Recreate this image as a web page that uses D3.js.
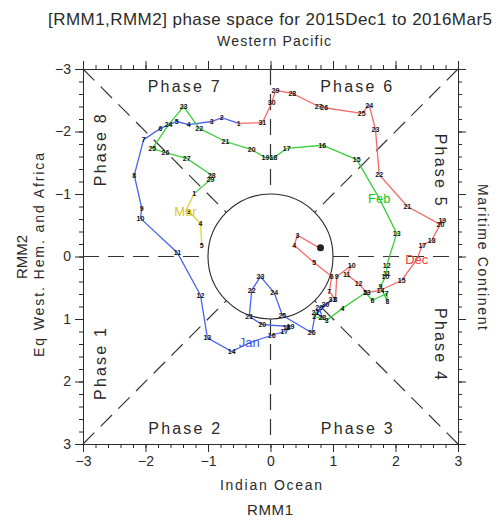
<!DOCTYPE html>
<html>
<head>
<meta charset="utf-8">
<script src="https://cdn.jsdelivr.net/npm/d3@7"></script>
<style>
  body { margin: 0; background: #fff; }
  text { font-family: "Liberation Sans", Arial, sans-serif; }
</style>
</head>
<body>
<div id="chart"></div>
<script>
// RMM values, one pair of arrays per month
const months = ['Dec', 'Jan', 'Feb', 'Mar'];
const monthColors = ['#f46a6a', '#4a63f0', '#3ccf3c', '#e3d23a'];
const labelColors = ['#f24040', '#3a55ee', '#22c822', '#d8c82a'];
const labelDay = [16, 15, 14, 2];

const decRmm1 = [0.80, 0.78, 0.43, 0.38, 0.70, 0.98, 0.94, 1.04, 1.06, 1.30, 1.22, 1.41, 1.54, 1.76, 2.10, 2.34,
  2.43, 2.58, 2.75, 2.72, 2.19, 1.74, 1.68, 1.58, 1.46, 0.86, 0.77, 0.35, 0.08, 0.02, -0.13];
const decRmm2 = [-0.14, -0.14, -0.34, -0.18, 0.10, 0.32, 0.56, 0.69, 0.32, 0.14, 0.29, 0.43, 0.58, 0.54, 0.38, 0.05,
  -0.18, -0.26, -0.58, -0.51, -0.80, -1.31, -2.03, -2.42, -2.29, -2.38, -2.40, -2.61, -2.66, -2.46, -2.14];

const janRmm1 = [-0.51, -0.78, -0.94, -1.31, -1.50, -1.76, -2.03, -2.18, -2.06, -2.08, -1.49, -1.12, -1.01, -0.62, -0.34, 0.02,
  0.22, 0.26, 0.32, -0.13, -0.34, -0.30, -0.16, 0.06, 0.19, 0.66, 0.72, 0.83, 0.78, 0.88, 0.99];
const janRmm2 = [-2.13, -2.22, -2.16, -2.11, -2.16, -2.05, -1.87, -1.30, -0.77, -0.61, -0.06, 0.62, 1.30, 1.52, 1.38, 1.26,
  1.20, 1.14, 1.12, 1.09, 0.96, 0.54, 0.32, 0.58, 0.94, 1.22, 0.90, 0.98, 0.82, 0.77, 0.69];

const febRmm1 = [0.75, 0.70, 0.90, 1.15, 1.52, 1.63, 1.86, 1.87, 1.76, 1.84, 1.86, 1.86, 2.02, 1.74, 1.38,
  0.83, 0.26, 0.05, -0.08, -0.30, -0.72, -1.14, -1.39, -1.63, -1.89, -1.68, -1.34, -0.94, -0.96];
const febRmm2 = [0.90, 0.96, 1.02, 0.83, 0.58, 0.70, 0.59, 0.72, 0.48, 0.32, 0.27, 0.14, -0.37, -0.93, -1.55,
  -1.78, -1.73, -1.58, -1.58, -1.71, -1.84, -2.05, -2.40, -2.11, -1.73, -1.66, -1.57, -1.30, -1.23];

const marRmm1 = [-1.22, -1.36, -1.31, -1.12, -1.10];
const marRmm2 = [-1.01, -0.72, -0.72, -0.53, -0.18];

const tickValues = [-3, -2, -1, 0, 1, 2, 3];

const width = 498, height = 522;
const ink = '#2a2a2a';
const svg = d3.select('#chart').append('svg')
  .attr('width', width)
  .attr('height', height);

const x = d3.scaleLinear().domain([-3, 3]).range([83, 458]);
const y = d3.scaleLinear().domain([-3, 3]).range([69, 444]);

const minorValues = d3.range(-30, 31, 2).map(d => d / 10);

// axes: major + minor ticks on all four sides, labels on left and bottom
function drawAxis(axisFn, scale, transform, labels) {
  svg.append('g')
    .attr('transform', transform)
    .call(axisFn(scale).tickValues(minorValues).tickSize(4).tickFormat(''))
    .call(g => g.select('.domain').remove());
  const g = svg.append('g')
    .attr('transform', transform)
    .call(axisFn(scale)
      .tickValues(tickValues).tickSize(8).tickPadding(4).tickSizeOuter(0)
      .tickFormat(labels ? d3.format('d') : ''));
  g.selectAll('text')
    .style('font-size', '14px')
    .style('font-family', '"Liberation Sans", Arial, sans-serif')
    .attr('fill', ink);
  g.select('.domain').attr('stroke', ink);
}
drawAxis(d3.axisBottom, x, 'translate(0,444)', true);
drawAxis(d3.axisTop, x, 'translate(0,69)', false);
drawAxis(d3.axisLeft, y, 'translate(83,0)', true);
drawAxis(d3.axisRight, y, 'translate(458,0)', false);
svg.selectAll('.tick line').attr('stroke', ink);

// phase lines
const r = 1 / Math.SQRT2;
const guide = [
  [[-3, 0], [-1, 0]], [[1, 0], [3, 0]], [[0, -3], [0, -1]], [[0, 1], [0, 3]],
  [[-3, -3], [-r, -r]], [[3, 3], [r, r]], [[-3, 3], [-r, r]], [[3, -3], [r, -r]]
];
svg.append('g').selectAll('line')
  .data(guide)
  .enter()
  .append('line')
  .attr('x1', d => x(d[0][0])).attr('y1', d => y(d[0][1]))
  .attr('x2', d => x(d[1][0])).attr('y2', d => y(d[1][1]))
  .attr('stroke', '#333')
  .attr('stroke-width', 1.2)
  .attr('stroke-dasharray', '16,9');

svg.append('circle')
  .attr('cx', x(0)).attr('cy', y(0))
  .attr('r', x(1) - x(0))
  .attr('fill', 'none')
  .attr('stroke', ink)
  .attr('stroke-width', 1.1);

// phase labels
const phases = [
  { t: 'Phase 7', px: -1.39, py: -2.72, rot: 0 },
  { t: 'Phase 6', px: 1.37, py: -2.72, rot: 0 },
  { t: 'Phase 2', px: -1.38, py: 2.74, rot: 0 },
  { t: 'Phase 3', px: 1.38, py: 2.74, rot: 0 },
  { t: 'Phase 8', px: -2.72, py: -1.70, rot: -90 },
  { t: 'Phase 1', px: -2.72, py: 1.72, rot: -90 },
  { t: 'Phase 5', px: 2.72, py: -1.39, rot: 90 },
  { t: 'Phase 4', px: 2.72, py: 1.40, rot: 90 }
];
svg.append('g').selectAll('text')
  .data(phases)
  .enter()
  .append('text')
  .attr('transform', d => `translate(${x(d.px)},${y(d.py)}) rotate(${d.rot})`)
  .attr('text-anchor', 'middle')
  .attr('dy', '0.36em')
  .attr('textLength', 72)
  .attr('lengthAdjust', 'spacing')
  .style('font-size', '16px')
  .attr('fill', ink)
  .text(d => d.t);

// month trajectories
const allMonths = [
  { r1: decRmm1, r2: decRmm2 },
  { r1: janRmm1, r2: janRmm2 },
  { r1: febRmm1, r2: febRmm2 },
  { r1: marRmm1, r2: marRmm2 }
];
const line = d3.line().x(d => x(d[0])).y(d => y(d[1]));

allMonths.forEach((m, i) => {
  const pts = m.r1.map((v, k) => [v, m.r2[k]]);
  const next = allMonths[i + 1];
  if (next) pts.push([next.r1[0], next.r2[0]]);
  svg.append('path')
    .attr('d', line(pts))
    .attr('fill', 'none')
    .attr('stroke', monthColors[i])
    .attr('stroke-width', 1.3);
});

allMonths.forEach((m, i) => {
  const days = m.r1.map((v, k) => ({ day: k + 1, a: v, b: m.r2[k] }))
    .filter(d => d.day !== labelDay[i] && !(i === 0 && d.day === 1));
  svg.append('g').selectAll('text')
    .data(days)
    .enter()
    .append('text')
    .attr('x', d => x(d.a))
    .attr('y', d => y(d.b))
    .attr('text-anchor', 'middle')
    .attr('dy', '0.35em')
    .style('font-size', '7px')
    .style('font-weight', 'bold')
    .attr('fill', '#111')
    .text(d => d.day);

  const k = labelDay[i] - 1;
  svg.append('text')
    .attr('x', x(m.r1[k]))
    .attr('y', y(m.r2[k]))
    .attr('text-anchor', 'middle')
    .attr('dy', '0.36em')
    .style('font-size', '13px')
    .attr('fill', labelColors[i])
    .text(months[i]);
});

// start dot
svg.append('circle')
  .attr('cx', x(decRmm1[0])).attr('cy', y(decRmm2[0]))
  .attr('r', 3.5)
  .attr('fill', '#222');

// titles and side labels, stretched to the widths seen in the reference
function label(t, tx, ty, rot, size, len) {
  svg.append('text')
    .attr('transform', `translate(${tx},${ty}) rotate(${rot})`)
    .attr('text-anchor', 'middle')
    .attr('textLength', len)
    .attr('lengthAdjust', 'spacing')
    .style('font-size', size + 'px')
    .attr('fill', ink)
    .text(t);
}
label('[RMM1,RMM2] phase space for 2015Dec1 to 2016Mar5', 270, 25, 0, 17, 444);
label('Western Pacific', 274, 46, 0, 14, 114);
label('Indian Ocean', 271, 490, 0, 14, 102);
label('RMM1', 270, 515, 0, 15, 46);
label('RMM2', 27, 257, -90, 15, 44);
label('Eq West. Hem. and Africa', 44, 255, -90, 14, 204);
label('Maritime Continent', 478, 257, 90, 14, 146);
</script>
</body>
</html>
